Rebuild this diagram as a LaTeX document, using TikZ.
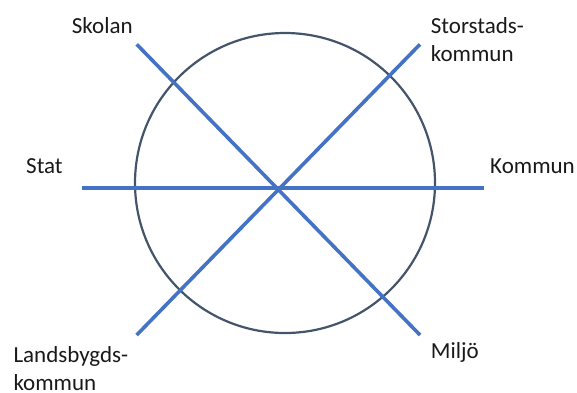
\documentclass[tikz,border=0pt]{standalone}
\usepackage{fontspec}
\setmainfont{Carlito}
\definecolor{axisblue}{HTML}{4472C4}
\definecolor{ringgray}{HTML}{44546A}
\begin{document}
\begin{tikzpicture}[x=1pt,y=-1pt,
  axis/.style={draw=axisblue,line width=3.6pt},
  ring/.style={draw=ringgray,line width=2.2pt,circle,minimum size=300pt,inner sep=0pt},
  lbl/.style={font=\fontsize{23}{28}\selectfont,inner sep=0pt,anchor=base west,align=left,text=black!90}]
\useasboundingbox (0,0) rectangle (577,392);
\node[ring] (c) at (285,183) {};
\coordinate (s1) at (136.7,44.3);
\coordinate (s2) at (420,335);
\coordinate (t1) at (420,44.3);
\coordinate (t2) at (136.7,335);
\coordinate (h1) at (81.7,187.7);
\coordinate (h2) at (484,187.7);
\draw[axis] (s1) -- (s2);
\draw[axis] (t1) -- (t2);
\draw[axis] (h1) -- (h2);
\node[lbl] (skolan) at (71.7,33) {Skolan};
\node[lbl] (stor) at (430.7,61.5) {Storstads-\\kommun};
\node[lbl] (stat) at (26,173.3) {Stat};
\node[lbl] (kommun) at (490,173.3) {Kommun};
\node[lbl] (land) at (13.3,390.5) {Landsbygds-\\kommun};
\node[lbl] (miljo) at (430.7,358.3) {Miljö};
\end{tikzpicture}
\end{document}
